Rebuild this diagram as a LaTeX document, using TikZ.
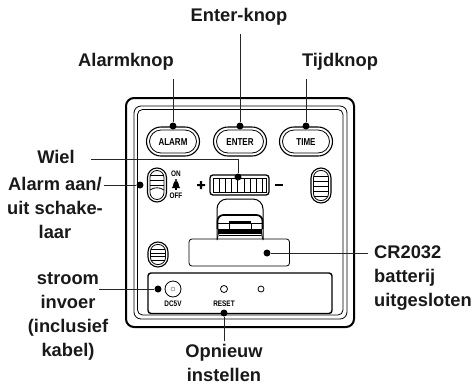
\documentclass[tikz,border=0pt]{standalone}
\usepackage{fontspec}
\setmainfont{Liberation Sans}
\newcommand{\narrowtxt}[1]{\scalebox{0.8}[1]{#1}}
\tikzset{
  x=1pt,y=-1pt,
  lab/.style={font=\fontsize{18.3}{24}\selectfont\bfseries,align=center,inner sep=0pt,text=black!90},
  dotm/.style={circle,fill=black,inner sep=0pt,minimum size=7pt},
  lead/.style={draw=black!85,line width=0.85pt},
  small/.style={font=\fontsize{8}{8}\selectfont\bfseries,inner sep=0pt},
  btxt/.style={font=\fontsize{10}{10}\selectfont\bfseries,inner sep=0pt},
  ln/.style={draw=black,line width=0.8pt},
}
\newcommand{\pushbtn}[3]{%
  \draw[ln,line width=1.1pt,rounded corners=14.5pt] (#1-26.5,127) rectangle (#1+26.5,156);
  \draw[ln,rounded corners=11.5pt] (#1-23.5,130) rectangle (#1+23.5,153);
  \node[btxt] (#3) at (#1,142) {\narrowtxt{#2}};
}
\newcommand{\slidersw}[4]{% cx, top, bottom, halfwidth
  \draw[ln,line width=1.1pt,rounded corners=#4pt] (#1-#4,#2) rectangle (#1+#4,#3);
  \draw[ln,rounded corners=7pt] (#1-#4+2.5,#2+2.5) rectangle (#1+#4-2.5,#3-2.5);
}
\begin{document}
\begin{tikzpicture}
\useasboundingbox (0,0) rectangle (475,384);
% housing
\draw[line width=2pt,rounded corners=8pt] (126,98) rectangle (354,327);
\draw[ln,rounded corners=7pt] (134,106) rectangle (347,319);
\draw[ln,rounded corners=5pt] (137.5,109.5) rectangle (343,315);
% buttons
\pushbtn{173}{ALARM}{balarm}
\pushbtn{240}{ENTER}{benter}
\pushbtn{306}{TIME}{btime}
% left slide switch
\slidersw{157}{168}{202}{9.5}
\draw[ln] (150,175) -- (164,175) (150,180) -- (164,180) (150,185) -- (164,185);
\draw[ln] (150,190) .. controls (154,187) and (160,187) .. (164,190);
% right slide switch
\slidersw{321}{168}{203}{10}
\draw[ln] (314,176) -- (328,176) (313,181) -- (329,181) (313,186) -- (329,186) (313,191) -- (329,191) (314,196) -- (328,196);
% lower left switch
\slidersw{158}{242}{267}{10}
\draw[ln] (151,249) -- (165,249) (151,253) -- (165,253);
\draw[ln] (151,256) -- (165,256) (151,260) -- (165,260);
% switch labels
\node[small] (on) at (176,174) {\narrowtxt{ON}};
\node[small] (off) at (176,196) {\narrowtxt{OFF}};
\fill[black] (176,180) circle (1.2) (171.8,188) .. controls (174,186.5) and (172.5,181) .. (176,181) .. controls (179.5,181) and (178,186.5) .. (180.2,188) -- cycle;
\fill[black] (174.8,188) rectangle (177.2,189.6);
% wheel
\draw[ln,line width=1.3pt,rounded corners=3pt] (210,175) rectangle (269,195);
\draw[ln,line width=1pt] (213,178) rectangle (266,192);
\foreach \xx in {219,225,231,237,244,250,256,262} \draw[ln] (\xx,178) -- (\xx,192);
\fill[black] (197,184) rectangle (205,186.2) (199.9,181) rectangle (202.1,189.2);
\fill[black] (275,184) rectangle (283,186.4);
% clip
\draw[ln,line width=1pt,rounded corners=10pt] (217,240) -- (217,199) -- (263,199) -- (263,240);
\draw[line width=1.7pt,rounded corners=6pt] (217.5,229) -- (217.5,215) -- (262.5,215) -- (262.5,229);
\fill[black] (229,220.5) rectangle (251,223.5);
\draw[ln] (218,223.5) -- (262,223.5);
\draw[ln] (229,223.5) -- (229,229) (251,223.5) -- (251,229);
\fill[black] (218,229) rectangle (262,233.5);
\draw[ln] (219,235.5) -- (261,235.5) (217.5,239) -- (219,229) (262.5,239) -- (261,229);
% battery
\draw[ln,rounded corners=3pt] (189,239) rectangle (289.5,266);
% bottom panel
\draw[line width=1.4pt,rounded corners=3pt] (148,273) rectangle (332,313.5);
\draw[ln] (173,289) circle (8);
\draw[line width=0.4pt,draw=black!60] (173,289) circle (2);
\draw[ln] (224,289) circle (3.5);
\draw[ln] (261,289) circle (3);
\node[small] (dc) at (173,304) {\narrowtxt{DC5V}};
\node[small] (reset) at (224,304) {\narrowtxt{RESET}};
% dots
\node[dotm] (da) at (173,126) {};
\node[dotm] (de) at (240,126) {};
\node[dotm] (dt) at (306,126) {};
\node[dotm] (dw) at (238,177) {};
\node[dotm] (ds) at (140,185) {};
\node[dotm] (db) at (267,253) {};
\node[dotm] (dp) at (158,289) {};
\node[dotm] (dr) at (224,313) {};
% labels
\node[lab] (lenter) at (239,17) {Enter-knop};
\node[lab] (lalarm) at (126,62) {Alarmknop};
\node[lab] (ltijd) at (340,62) {Tijdknop};
\node[lab] (lwiel) at (56,157) {Wiel};
\node[lab] (lsw) at (55,208) {Alarm aan/\\uit schake-\\laar};
\node[lab] (lpow) at (68,316.5) {stroom\\invoer\\(inclusief\\kabel)};
\node[lab,align=left,anchor=west] (lbat) at (374,278) {CR2032\\batterij\\uitgesloten};
\node[lab] (lres) at (224,363) {Opnieuw\\instellen};
% connectors
\coordinate (ca) at (173,79);
\coordinate (ce) at (240,34);
\coordinate (ct) at (306,79);
\coordinate (cw) at (91,159);
\coordinate (cwk) at (238,159);
\coordinate (cs) at (104,185);
\coordinate (cb) at (368,253);
\coordinate (cp) at (99,289);
\coordinate (cr) at (224,341);
\draw[lead] (ca) -- (da);
\draw[lead] (ce) -- (de);
\draw[lead] (ct) -- (dt);
\draw[lead] (cw) -- (cwk) -- (dw);
\draw[lead] (cs) -- (ds);
\draw[lead] (cb) -- (db);
\draw[lead] (cp) -- (dp);
\draw[lead] (cr) -- (dr);
\end{tikzpicture}
\end{document}
